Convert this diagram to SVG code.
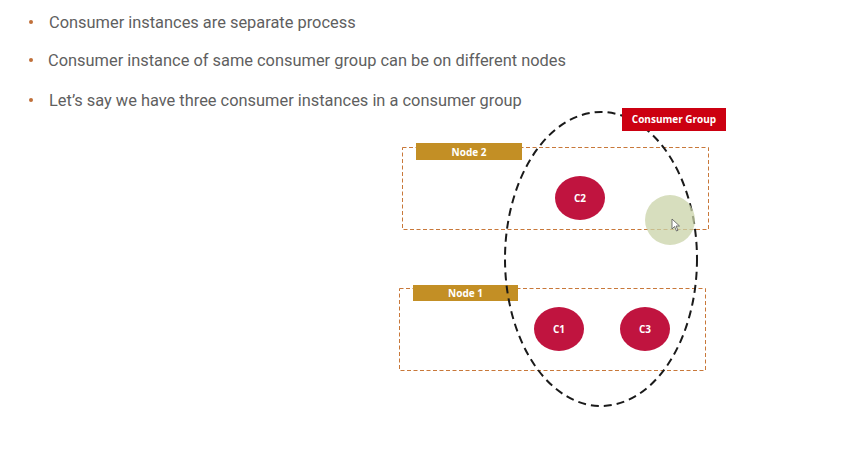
<svg xmlns="http://www.w3.org/2000/svg" width="855" height="465" viewBox="0 0 855 465">
<style>
.b{font-family:Roboto,"Liberation Sans",sans-serif;font-size:16.4px;fill:#5f5f5f}
.dot{fill:#c0703a}
.node{fill:none;stroke:#c8783a;stroke-width:1;stroke-dasharray:4 2.5}
.lab{fill:#c38f25}
.lt{font-family:"Open Sans","Liberation Sans",sans-serif;font-size:10px;font-weight:bold;fill:#fff;text-anchor:middle}
.c{fill:#c0143f}
</style>
<rect width="855" height="465" fill="#fff"/>
<g id="bullets">
<circle class="dot" cx="31" cy="22" r="2"/>
<text class="b" x="49" y="28">Consumer instances are separate process</text>
<circle class="dot" cx="31" cy="60" r="2"/>
<text class="b" x="48" y="66">Consumer instance of same consumer group can be on different nodes</text>
<circle class="dot" cx="31" cy="100" r="2"/>
<text class="b" x="49" y="106">Let’s say we have three consumer instances in a consumer group</text>
</g>
<g id="node2">
<rect class="node" x="402.5" y="147.5" width="306" height="82"/>
<rect class="lab" x="416" y="143" width="106" height="17"/>
<text class="lt" x="469" y="155.5" font-size="10.5">Node 2</text>
</g>
<g id="node1">
<rect class="node" x="399.5" y="288.5" width="306" height="82"/>
<rect class="lab" x="413" y="285" width="105" height="16"/>
<text class="lt" x="465.5" y="297" font-size="10.5">Node 1</text>
</g>
<g id="connectors">
<ellipse cx="601" cy="259" rx="96" ry="147" fill="none" stroke="#1a1a1a" stroke-width="2" stroke-dasharray="8 5"/>
</g>
<g id="group">
<rect x="622" y="108" width="104" height="23" fill="#cc0011"/>
<text class="lt" x="674" y="123">Consumer Group</text>
</g>
<g id="c2"><ellipse class="c" cx="580" cy="198" rx="25" ry="22"/><text class="lt" x="580" y="201.5">C2</text></g>
<g id="c1"><ellipse class="c" cx="559" cy="329" rx="25" ry="22"/><text class="lt" x="559" y="332.5">C1</text></g>
<g id="c3"><ellipse class="c" cx="645" cy="329" rx="25" ry="22"/><text class="lt" x="645" y="332.5">C3</text></g>
<g id="cursor">
<circle cx="670" cy="220" r="25" fill="#c9d3a8" opacity="0.75"/>
<path d="M672 219 L672 229 L674.5 226.5 L676.5 231 L678 230.3 L676 226 L679.5 226 Z" fill="#fff" stroke="#555" stroke-width="0.8"/>
</g>
</svg>
